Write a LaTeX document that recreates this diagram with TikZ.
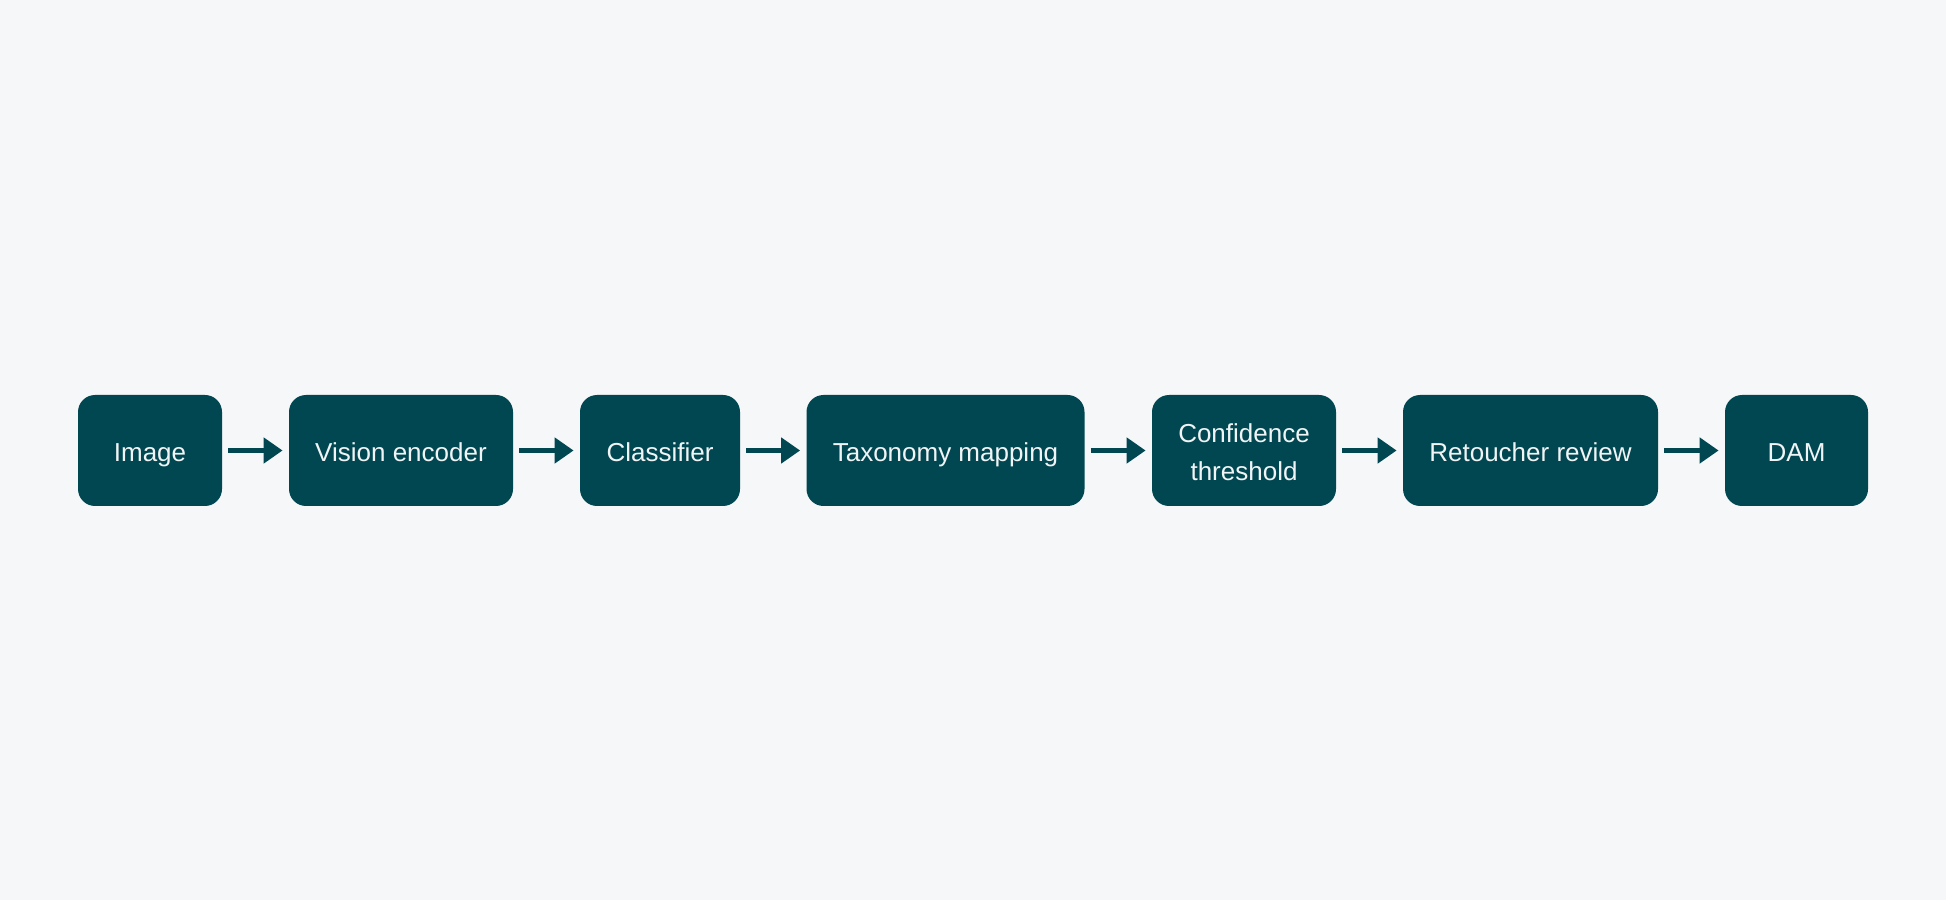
\documentclass[tikz,border=0pt]{standalone}
\usepackage{fontspec}
\setmainfont{Liberation Sans}
\usetikzlibrary{arrows.meta}
\definecolor{pagebg}{RGB}{245,247,249}
\definecolor{stagefill}{RGB}{1,71,81}
\definecolor{stagetext}{RGB}{240,244,245}

\tikzset{
  every stage/.style={rectangle, rounded corners=8.5pt, fill=stagefill,
    text=stagetext, minimum height=55.5pt, align=center,
    text height=11.25pt, text depth=0.5pt,
    font=\fontsize{13pt}{19pt}\selectfont},
  stage 5/.style={text height=30.25pt},
  flow/.style={draw=stagefill, line width=2.85pt, shorten <=3pt, shorten >=3pt,
    -{Triangle[length=9.5pt, width=12.5pt]}}
}

\begin{document}
\begin{tikzpicture}
  \fill [pagebg] (0,0) rectangle (973pt,450pt);
  \useasboundingbox (0,0) rectangle (973pt,450pt);

  \foreach \t/\w/\x [count=\i] in {Image/72/75, Vision encoder/112/200.5,
      Classifier/80/330, Taxonomy mapping/139/472.75,
      {Confidence\\threshold}/92/622, Retoucher review/127.5/765.25, DAM/71.5/898.25}
    \node [every stage, stage \i/.try, minimum width=\w pt](stage-\i) at (\x pt, 224.75pt) {\t};

  \foreach \f [evaluate=\f as \t using int(\f+1)] in {1,...,6}
    \draw [flow] (stage-\f) -- (stage-\t);
\end{tikzpicture}
\end{document}
